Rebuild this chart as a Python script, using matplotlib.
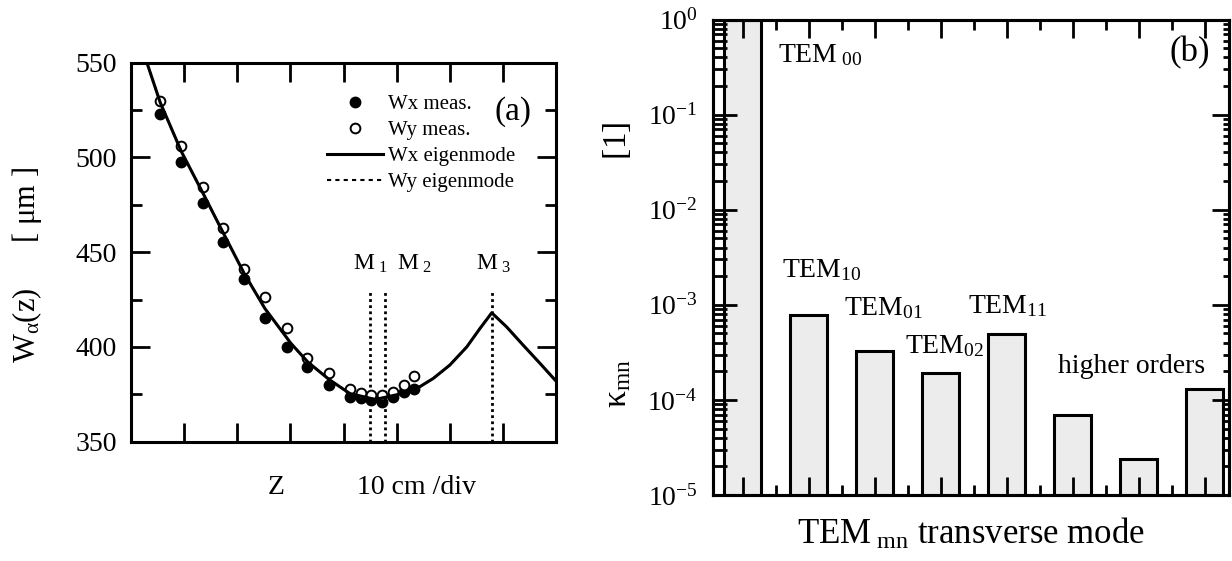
import matplotlib
matplotlib.use("Agg")
import matplotlib.pyplot as plt
import numpy as np
from matplotlib.ticker import MultipleLocator, LogLocator, NullFormatter, FixedLocator

plt.rcParams['font.family'] = ['Liberation Serif', 'DejaVu Serif']
plt.rcParams['mathtext.fontset'] = 'stix'
plt.rcParams['mathtext.default'] = 'regular'

# ---- panel (a): beam radius along the cavity (z in 10 cm divisions) ----
z_meas = [0.54, 0.95, 1.35, 1.74, 2.13, 2.52, 2.94, 3.32, 3.73,
          4.12, 4.32, 4.52, 4.72, 4.93, 5.13, 5.33]
wx_meas = [522.9, 497.7, 475.9, 455.2, 436.0, 415.4, 400.0, 389.5, 380.0,
           373.6, 372.8, 371.9, 371.0, 373.6, 376.0, 378.0]
wy_meas = [529.8, 506.0, 484.5, 463.0, 441.3, 426.3, 409.8, 394.4, 386.0,
           377.7, 375.8, 374.9, 374.7, 376.3, 379.7, 384.8]

z_mode = [0.30, 0.55, 0.95, 1.35, 1.74, 2.13, 2.52, 3.01, 3.33, 3.73,
          4.12, 4.60, 5.04, 5.43, 5.69, 6.00, 6.32, 6.57, 6.79, 7.07,
          7.38, 7.70, 8.00]
w_mode = [550.0, 529.0, 503.0, 481.4, 460.0, 438.8, 420.3, 401.9, 392.0, 382.8,
          375.4, 372.3, 375.0, 378.9, 383.4, 390.4, 400.0, 409.8, 418.0, 410.6,
          401.0, 391.3, 382.0]

mirror_z = [4.49, 4.79, 6.79]
mirror_top = 430
mirror_names = [r'M$_{\ 1}$', r'M$_{\ 2}$', r'M$_{\ 3}$']

# ---- panel (b): relative power in transverse modes ----
modes = ['TEM00', 'TEM10', 'TEM01', 'TEM02', 'TEM11', 'h1', 'h2', 'h3']
kappa = [1.0, 7.9e-4, 3.3e-4, 1.9e-4, 4.9e-4, 7.0e-5, 2.37e-5, 1.3e-4]
mode_labels = [r'TEM$_{\ 00}$', r'TEM$_{10}$', r'TEM$_{01}$', r'TEM$_{02}$',
               r'TEM$_{11}$', 'higher orders']

fig = plt.figure(figsize=(12.32, 5.61), dpi=100)
W, H = 1232.0, 561.0

# panel (a)
ax1 = fig.add_axes([131 / W, (H - 441.7) / H, 425 / W, 379 / H])
h_wx, = ax1.plot(z_meas, wx_meas, 'o', mfc='k', mec='k', ms=7.5, zorder=2)
h_wy, = ax1.plot(z_meas, wy_meas, 'o', mfc='white', mec='k', ms=7, mew=1.4, zorder=3)
h_wy_mode, = ax1.plot(z_mode, w_mode, color='k', lw=1.5, ls=(0, (2, 2)), zorder=3.5)
h_wx_mode, = ax1.plot(z_mode, w_mode, color='k', lw=2.2, zorder=4)
ax1.vlines(mirror_z, 350, mirror_top, colors='k', lw=2, linestyles=(0, (1, 1.2)), zorder=1)
for zm, name, dx in zip(mirror_z, mirror_names, [-0.32, 0.21, -0.3]):
    ax1.text(zm + dx, 441, name, fontsize=17, ha='left', va='baseline')

ax1.set_xlim(0, 8)
ax1.set_ylim(350, 550)
ax1.xaxis.set_major_locator(MultipleLocator(1))
ax1.yaxis.set_major_locator(MultipleLocator(50))
ax1.yaxis.set_minor_locator(MultipleLocator(25))
ax1.tick_params(which='both', direction='in', top=True, right=True, width=2, labelsize=20, pad=10)
ax1.tick_params(which='major', length=14)
ax1.tick_params(which='minor', length=8)
ax1.tick_params(axis='x', labelbottom=False)
for s in ax1.spines.values():
    s.set_linewidth(2.2)

ax1.set_ylabel(u'W$_\\alpha$(z)      [ \u03bcm ]', fontsize=22)
ax1.yaxis.set_label_coords(-0.205, 0.465)
ax1.text(2.74, -0.122, 'Z', fontsize=20, ha='center', va='center',
         transform=ax1.get_xaxis_transform())
ax1.text(4.26, -0.122, '10 cm /div', fontsize=20, ha='left', va='center',
         transform=ax1.get_xaxis_transform())
ax1.text(0.899, 0.87, '(a)', fontsize=24, ha='center', va='center', transform=ax1.transAxes)

ax1.legend([h_wx, h_wy, h_wx_mode, h_wy_mode],
           ['Wx meas.', 'Wy meas.', 'Wx eigenmode', 'Wy eigenmode'],
           loc='upper left', bbox_to_anchor=(0.461, 0.915), frameon=False,
           fontsize=15, handlelength=2.7, handletextpad=0.25, labelspacing=0.3,
           borderpad=0, borderaxespad=0, numpoints=1)

# panel (b)
ax2 = fig.add_axes([713 / W, (H - 495) / H, 516 / W, 475.5 / H])
pos = np.arange(len(modes))
ax2.bar(pos, kappa, width=0.55, color='#ececec', edgecolor='k', linewidth=2.2, zorder=1)
ax2.set_yscale('log')
ax2.set_ylim(1e-5, 1)
ax2.set_xlim(-0.447, 7.37)
ax2.xaxis.set_major_locator(FixedLocator(pos))
ax2.xaxis.set_minor_locator(FixedLocator(pos[:-1] + 0.5))
ax2.yaxis.set_major_locator(LogLocator(base=10, numticks=10))
ax2.yaxis.set_minor_locator(LogLocator(base=10, subs=np.arange(2, 10), numticks=20))
ax2.yaxis.set_minor_formatter(NullFormatter())
ax2.tick_params(axis='x', which='both', direction='in', top=True, bottom=True,
                labelbottom=False, width=2)
ax2.tick_params(axis='x', which='major', length=13)
ax2.tick_params(axis='x', which='minor', length=7)
ax2.tick_params(axis='y', which='both', direction='in', right=False, width=2,
                labelsize=20, pad=11)
ax2.tick_params(axis='y', which='major', length=17)
ax2.tick_params(axis='y', which='minor', length=10)
for s in ax2.spines.values():
    s.set_linewidth(2.2)

ax2r = ax2.twinx()
ax2r.set_yscale('log')
ax2r.set_ylim(ax2.get_ylim())
ax2r.yaxis.set_major_locator(LogLocator(base=10, numticks=10))
ax2r.yaxis.set_minor_locator(LogLocator(base=10, subs=np.arange(2, 10), numticks=20))
ax2r.tick_params(axis='y', which='both', direction='in', width=2, labelright=False)
ax2r.tick_params(axis='y', which='major', length=12)
ax2r.tick_params(axis='y', which='minor', length=4)
for s in ax2r.spines.values():
    s.set_linewidth(2.2)

label_xy = [(0.534, 0.357), (0.598, 1.96e-3), (1.535, 7.8e-4),
            (2.46, 3.1e-4), (3.42, 8.2e-4), (4.78, 1.92e-4)]
for txt, (lx, ly) in zip(mode_labels, label_xy):
    ax2.text(lx, ly, txt, fontsize=20, ha='left', va='baseline')
ax2.text(0.924, 0.93, '(b)', fontsize=25, ha='center', va='center', transform=ax2.transAxes)

ax2.set_xlabel(r'TEM$_{\ mn}$ transverse mode', fontsize=25, labelpad=16)
ax2.set_ylabel(r'$\kappa_{mn}$' + ' ' * 24 + '[1]', fontsize=24)
ax2.yaxis.set_label_coords(-0.155, 0.485)

fig.savefig('out.png', dpi=100)
